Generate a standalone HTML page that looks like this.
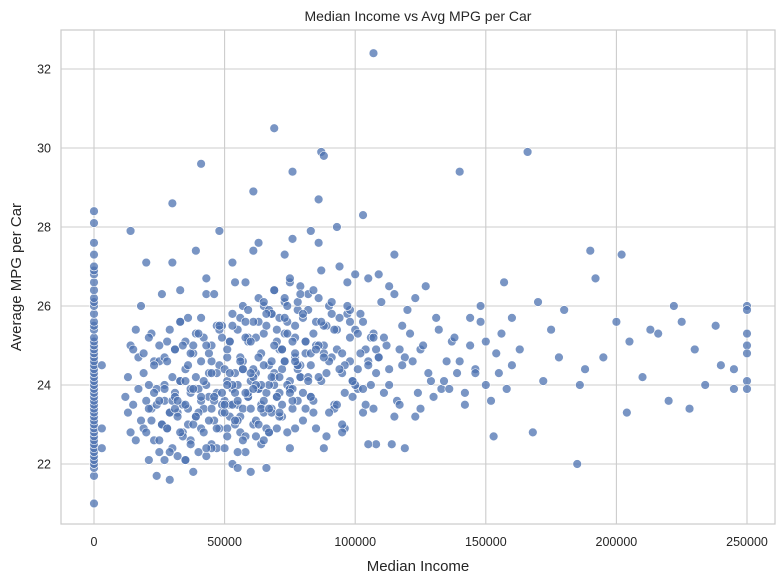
<!DOCTYPE html>
<html><head><meta charset="utf-8">
<style>
html,body{margin:0;padding:0;background:#fff;}
svg{display:block;font-family:"Liberation Sans",Arial,sans-serif;}
</style></head>
<body>
<svg id="chart" width="784" height="584">
  <text x="418" y="21" text-anchor="middle" font-size="14" fill="#262626">Median Income vs Avg MPG per Car</text>
  <g id="grid"></g>
  <g id="points"></g>
  <rect x="61" y="30" width="714" height="494" fill="none" stroke="#cccccc" stroke-width="1.25"/>
  <g id="xticks"></g>
  <g id="yticks"></g>
  <text x="418" y="571" text-anchor="middle" font-size="15" fill="#262626">Median Income</text>
  <text transform="translate(21,277) rotate(-90)" text-anchor="middle" font-size="15" fill="#262626">Average MPG per Car</text>
</svg>
<script>
const xTickValues = [0, 50000, 100000, 150000, 200000, 250000];
const yTickValues = [22, 24, 26, 28, 30, 32];
// MPG values for zero-income rows
const zeroIncomeMpg = [21.0,21.7,21.9,22.0,22.1,22.2,22.3,22.4,22.5,22.6,22.7,22.8,22.9,23.0,23.1,23.2,23.3,23.4,23.5,23.6,23.7,23.8,23.9,24.0,24.1,24.2,24.3,24.4,24.5,24.6,24.7,24.8,24.9,25.0,25.1,25.2,25.4,25.5,25.6,25.8,26.0,26.1,26.2,26.4,26.6,26.8,26.9,27.0,27.3,27.6,28.1,28.4];
// incomes in thousands, with matching mpg
const incomeK = [3,3,3,
12,13,13,14,14,15,15,16,16,17,17,18,18,19,19,20,20,21,21,22,22,23,23,24,24,25,25,
26,26,27,27,28,28,29,29,30,30,31,31,32,32,33,33,34,34,35,35,36,36,37,37,38,38,39,39,40,40,
41,41,42,42,43,43,44,44,45,45,46,46,47,47,48,48,49,49,50,50,51,51,52,52,53,53,54,54,55,55,
56,56,57,57,58,58,59,59,60,60,61,61,62,62,63,63,64,64,65,65,66,66,67,67,68,68,69,69,70,70,
20,22,24,26,28,30,32,34,36,38,40,42,44,46,48,50,52,54,56,58,60,62,64,66,68,70,72,74,76,78,
21,23,25,27,29,31,33,35,37,39,41,43,45,47,49,51,53,55,57,59,61,63,65,67,69,71,73,75,77,79,
19,21,23,25,27,29,31,33,35,37,39,41,43,45,47,49,51,53,55,57,59,61,63,65,67,69,71,73,75,77,
71,72,73,74,75,76,77,78,79,80,81,82,83,84,85,86,87,88,89,90,91,92,93,94,95,96,97,98,99,100,
71,72,73,74,75,76,77,78,79,80,81,82,83,84,85,86,87,88,89,90,91,92,93,94,95,96,97,98,99,100,
101,102,103,104,105,106,107,108,109,110,111,112,113,114,115,116,117,118,119,120,
101,103,105,107,109,111,113,115,117,119,121,123,125,127,129,131,133,135,137,139,
122,124,126,128,130,132,134,136,138,140,142,144,146,148,150,152,154,156,158,160,
107,69,87,88,166,41,76,140,30,61,86,14,185,
250,250,250,250,250,250,250,245,245,238,240,234,228,230,225,222,220,216,213,210,205,204,202,200,192,190,195,188,186,180,178,175,172,170,168,163,160,157,155,153,150,148,146,144,142,
35,45,55,65,75,85,95,105,115,125,
33,43,53,63,73,83,93,103,113,123,
28,38,48,58,68,78,88,98,108,118,
25,27,29,31,33,35,37,39,41,43,45,47,49,51,53,55,57,59,61,63,65,67,69,71,73,75,77,79,81,83,
30,32,34,36,38,40,42,44,46,48,50,52,54,56,58,60,62,64,66,68,70,72,74,76,78,80,82,84,86,88,
50,52,54,56,58,60,62,64,66,68,70,72,74,76,78,80,82,84,86,88,90,92,94,96,98,100,102,104,106,108,
51,53,55,57,59,61,63,65,67,69,71,73,75,77,79,81,83,85,87,89,91,93,95,97,99,101,103,105,107,109];
const mpgValues = [24.5,22.9,22.4,
23.7,24.2,23.3,22.8,25.0,23.5,24.9,22.6,25.4,23.9,24.7,23.1,26.0,22.9,24.3,23.6,27.1,22.1,24.0,23.4,25.3,22.6,24.6,21.7,23.9,22.3,24.6,
23.0,26.3,22.1,23.6,22.9,25.1,21.6,23.3,22.4,27.1,23.8,24.9,22.2,23.3,24.1,25.6,22.8,23.5,22.1,24.4,23.0,25.7,22.6,23.8,21.8,24.8,23.2,27.4,22.3,23.9,
24.6,22.9,25.2,23.4,22.2,26.3,23.7,24.3,22.5,25.0,23.1,26.3,22.4,23.8,27.9,24.5,23.3,25.5,22.4,23.6,22.9,24.7,23.2,25.1,22.0,23.9,24.3,26.6,21.9,23.5,
25.7,22.8,23.4,24.6,22.3,26.6,23.7,25.2,21.8,24.1,23.0,27.4,24.3,22.7,25.6,23.9,22.5,24.8,23.3,26.0,21.9,23.8,24.5,22.8,25.8,23.4,26.4,24.0,22.9,25.1,
22.8,23.1,23.5,23.0,22.9,23.6,23.2,22.7,23.4,23.0,23.3,22.8,23.1,23.6,22.9,23.3,23.5,23.0,23.2,22.7,23.4,23.1,23.5,22.9,23.3,23.7,23.2,22.8,23.4,23.6,
23.4,23.8,23.6,24.0,23.3,23.7,24.1,23.5,23.9,24.2,23.6,24.0,23.4,24.3,23.8,24.1,23.5,24.0,24.4,23.7,24.2,23.9,24.5,24.0,24.3,23.8,24.6,24.1,24.7,24.2,
24.8,25.2,24.5,25.0,24.7,25.4,24.9,25.6,25.1,24.8,25.3,25.7,25.0,24.6,25.5,25.2,24.9,25.8,25.4,26.0,25.1,25.6,26.2,25.3,25.9,26.4,25.7,26.1,26.6,25.5,
23.2,24.4,25.3,24.0,26.7,23.6,24.8,25.9,24.2,23.8,25.1,26.3,24.5,23.3,25.6,27.6,24.1,25.0,22.7,26.0,24.7,23.5,25.4,27.0,24.3,22.9,25.8,24.6,23.7,26.8,
24.9,23.5,26.2,25.6,23.9,27.7,25.2,24.4,26.5,23.1,24.8,25.9,23.7,26.4,25.0,24.2,26.9,22.4,25.5,24.6,26.1,23.4,24.9,25.7,23.0,24.5,26.6,25.2,24.1,25.4,
24.4,25.8,23.3,24.9,26.7,24.0,25.3,22.5,24.7,26.1,23.8,25.0,24.4,22.5,26.3,23.6,24.9,25.5,22.4,25.9,
23.9,25.6,24.6,23.4,26.8,25.2,24.0,27.3,23.5,24.7,25.3,23.2,24.9,26.5,24.1,25.7,23.9,24.6,25.1,24.3,
24.6,23.8,25.0,24.3,23.7,25.4,24.1,23.9,25.2,24.6,23.8,25.0,24.4,25.6,24.0,23.6,24.8,25.3,23.9,24.5,
32.4,30.5,29.9,29.8,29.9,29.6,29.4,29.4,28.6,28.9,28.7,27.9,22.0,
26.0,25.9,25.3,25.0,24.8,24.1,23.9,23.9,24.4,25.5,24.5,24.0,23.4,24.9,25.6,26.0,23.6,25.3,25.4,24.2,25.1,23.3,27.3,25.6,26.7,27.4,24.7,24.4,24.0,25.9,24.7,25.4,24.1,26.1,22.8,24.9,25.7,26.6,24.3,22.7,25.1,26.0,24.3,25.7,23.5,
22.1,22.4,22.3,22.6,22.4,22.9,22.8,22.5,23.2,23.4,
26.4,26.7,27.1,27.6,27.3,27.9,28.0,28.3,26.5,26.2,
24.6,25.0,25.4,25.2,25.8,26.1,25.5,25.9,24.9,24.5,
22.6,23.9,22.3,23.4,22.8,24.1,22.5,23.2,23.7,22.4,24.3,22.9,23.5,22.7,24.0,23.1,22.6,23.8,24.4,23.0,23.6,22.8,24.2,23.3,24.6,23.9,22.9,24.5,23.4,24.8,
24.2,23.6,25.0,24.5,23.9,25.3,24.1,24.8,23.7,25.5,24.4,25.1,23.8,24.7,25.6,24.3,25.2,24.0,25.8,24.6,25.4,24.9,26.0,25.1,24.5,25.7,24.2,25.3,26.2,24.8,
23.5,24.3,23.1,24.6,23.8,25.1,24.0,23.4,25.5,24.2,23.7,24.9,25.3,23.9,24.5,25.8,24.1,23.6,25.0,24.7,23.3,25.4,24.4,23.8,25.6,24.0,24.8,23.5,25.2,24.3,
24.0,25.5,23.6,24.4,25.9,23.9,24.7,26.1,23.4,25.0,24.2,25.7,23.8,24.6,26.3,25.1,23.7,24.9,25.6,24.3,25.8,23.5,24.8,26.0,24.1,25.3,23.9,24.5,25.2,24.7];

const PX0 = 94, PX1 = 747, PY22 = 464, PYPER = 39.5;
function xScale(v){ return PX0 + (v / 250000) * (PX1 - PX0); }
function yScale(v){ return PY22 - (v - 22) * PYPER; }
const NS = 'http://www.w3.org/2000/svg';
const grid = document.getElementById('grid');
const xt = document.getElementById('xticks');
const yt = document.getElementById('yticks');
const pts = document.getElementById('points');

xTickValues.forEach(function(v){
  const x = xScale(v);
  const l = document.createElementNS(NS,'line');
  l.setAttribute('x1',x); l.setAttribute('x2',x); l.setAttribute('y1',30); l.setAttribute('y2',524);
  l.setAttribute('stroke','#cccccc'); l.setAttribute('stroke-width','1.1');
  
  
  grid.appendChild(l);
  const t = document.createElementNS(NS,'text');
  t.setAttribute('x',x); t.setAttribute('y',546); t.setAttribute('text-anchor','middle');
  t.setAttribute('font-size','12.5'); t.setAttribute('fill','#262626');
  t.textContent = v;
  
  
  xt.appendChild(t);
});
yTickValues.forEach(function(v){
  const y = yScale(v);
  const l = document.createElementNS(NS,'line');
  l.setAttribute('x1',61); l.setAttribute('x2',775); l.setAttribute('y1',y); l.setAttribute('y2',y);
  l.setAttribute('stroke','#cccccc'); l.setAttribute('stroke-width','1.1');
  
  
  grid.appendChild(l);
  const t = document.createElementNS(NS,'text');
  t.setAttribute('x',51); t.setAttribute('y',y+4.5); t.setAttribute('text-anchor','end');
  t.setAttribute('font-size','12.5'); t.setAttribute('fill','#262626');
  t.textContent = v;
  
  
  yt.appendChild(t);
});
function dot(income, mpg){
  const c = document.createElementNS(NS,'circle');
  c.setAttribute('cx', xScale(income)); c.setAttribute('cy', yScale(mpg)); c.setAttribute('r', 4.4);
  c.setAttribute('fill','rgba(76,114,176,0.75)'); c.setAttribute('stroke','#ffffff'); c.setAttribute('stroke-width','0.6');
  
  
  pts.appendChild(c);
}
zeroIncomeMpg.forEach(function(m){ dot(0, m); });
for (let i = 0; i < incomeK.length && i < mpgValues.length; i++) dot(incomeK[i]*1000, mpgValues[i]);
</script>
</body></html>
